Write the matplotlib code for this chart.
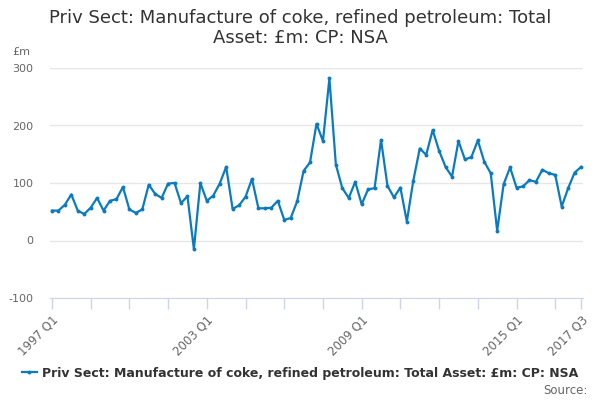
import numpy as np
import matplotlib.pyplot as plt
from matplotlib.lines import Line2D

plt.rcParams["axes.unicode_minus"] = False

# quarterly values, 1997 Q1 .. 2017 Q3
values = [
    52, 52, 62, 80, 52, 46, 57, 74, 52, 69, 72, 93,
    54, 48, 54, 97, 81, 74, 99, 100, 65, 77, -15, 100,
    69, 78, 99, 128, 55, 61, 76, 107, 56, 56, 57, 69,
    36, 39, 68, 121, 136, 203, 173, 282, 132, 91, 74, 102,
    63, 89, 91, 175, 95, 75, 92, 33, 104, 160, 149, 192,
    156, 128, 111, 173, 141, 145, 174, 137, 117, 17, 98, 127,
    92, 94, 105, 102, 123, 117, 114, 59, 91, 118, 128,
]
quarters = [f"{1997 + i // 4} Q{i % 4 + 1}" for i in range(len(values))]
label_quarters = ["1997 Q1", "2003 Q1", "2009 Q1", "2015 Q1", "2017 Q3"]

title = "Priv Sect: Manufacture of coke, refined petroleum: Total\nAsset: £m: CP: NSA"
series_name = "Priv Sect: Manufacture of coke, refined petroleum: Total Asset: £m: CP: NSA"

line_color = "#0a7bc1"
axis_color = "#ccd6eb"

fig = plt.figure(figsize=(6, 4), dpi=100)
ax = fig.add_axes([50 / 600, 1 - 298 / 400, 533 / 600, 230 / 400])

for s in ["top", "right", "left"]:
    ax.spines[s].set_visible(False)
ax.spines["bottom"].set_color(axis_color)

x = np.arange(len(values))
ax.plot(x, values, color=line_color, lw=1.6, marker="o", ms=2.8,
        markeredgewidth=0, solid_joinstyle="round")

ax.set_xlim(-0.3, len(values) - 1 + 0.3)
ax.set_ylim(-100, 300)
ax.set_yticks([-100, 0, 100, 200, 300])
ax.grid(axis="y", color="#e6e6e6", lw=1)
ax.set_axisbelow(True)

# tick marks every 6 quarters plus last, labels on selected quarters
tick_pos = list(range(0, len(values), 6)) + [len(values) - 1]
ax.set_xticks(tick_pos)
ax.set_xticklabels([quarters[i] if quarters[i] in label_quarters else "" for i in tick_pos],
                   rotation=45, ha="right", rotation_mode="anchor",
                   fontsize=8.5, color="#666666")
ax.tick_params(axis="x", length=8, color=axis_color, width=1, pad=3)
ax.tick_params(axis="y", length=0, labelsize=8, labelcolor="#666666", pad=12)

fig.text(0.5, 1 - 28 / 400, title, ha="center", va="center", fontsize=13,
         color="#333333", linespacing=1.15)
fig.text(12 / 600, 1 - 52 / 400, "£m", ha="left", va="center", fontsize=8, color="#666666")

handle = Line2D([0], [0], color=line_color, lw=1.6, marker="o", ms=2.8, markeredgewidth=0)
leg = fig.legend([handle], [series_name], loc="center", bbox_to_anchor=(0.5, 1 - 373 / 400),
                 frameon=False, handlelength=1.2, handletextpad=0.4,
                 prop={"weight": "bold", "size": 9})
for t in leg.get_texts():
    t.set_color("#333333")
fig.text(588 / 600, 1 - 390 / 400, "Source:", ha="right", va="center", fontsize=8.5, color="#666666")

fig.savefig("out.png", dpi=100)
